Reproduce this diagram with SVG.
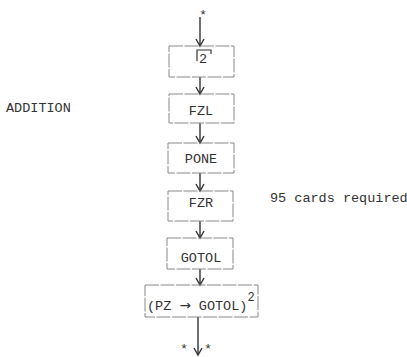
<svg xmlns="http://www.w3.org/2000/svg" width="407" height="357" viewBox="0 0 407 357">
<defs>
<marker id="ah" markerWidth="10" markerHeight="10" refX="8" refY="5" orient="auto" markerUnits="userSpaceOnUse" viewBox="0 0 10 10">
<path d="M1,1 L8,5 L1,9" fill="none" stroke="#333" stroke-width="1.4"/>
</marker>
<style>
.box{fill:none;stroke:#888;stroke-width:1;stroke-dasharray:14 1.5}
.t{font-family:"Liberation Mono","Courier New",monospace;font-size:13.5px;fill:#333}
.c{text-anchor:middle}
.e{stroke:#333;stroke-width:1.4;fill:none}
</style>
</defs>
<rect width="407" height="357" fill="#fff"/>
<g id="labels">
<text class="t" x="6" y="112">ADDITION</text>
<text class="t" x="270" y="202">95 cards required</text>
</g>
<g id="connectors">
<text class="t c" x="203" y="19">*</text>
<line class="e" x1="200" y1="17" x2="200" y2="46" marker-end="url(#ah)"/>
<line class="e" x1="200" y1="77" x2="200" y2="94" marker-end="url(#ah)"/>
<line class="e" x1="200" y1="123" x2="200" y2="143" marker-end="url(#ah)"/>
<line class="e" x1="200" y1="173" x2="200" y2="191" marker-end="url(#ah)"/>
<line class="e" x1="200" y1="221" x2="200" y2="238" marker-end="url(#ah)"/>
<line class="e" x1="200" y1="269" x2="200" y2="285" marker-end="url(#ah)"/>
<line class="e" x1="198" y1="317" x2="198" y2="355" marker-end="url(#ah)"/>
<text class="t c" x="184" y="353" font-size="12">*</text>
<text class="t c" x="208" y="353" font-size="12">*</text>
</g>
<g id="n1">
<rect class="box" x="169" y="46" width="65" height="31"/>
<polyline points="197,61 197,50 211,50 211,54" fill="none" stroke="#333" stroke-width="1.2"/>
<text class="t c" x="203" y="63">2</text>
</g>
<g id="n2">
<rect class="box" x="169" y="94" width="65" height="29"/>
<text class="t c" x="201" y="115">FZL</text>
</g>
<g id="n3">
<rect class="box" x="168" y="143" width="66" height="30"/>
<text class="t c" x="201" y="163">PONE</text>
</g>
<g id="n4">
<rect class="box" x="168" y="191" width="65" height="30"/>
<text class="t c" x="201" y="207">FZR</text>
</g>
<g id="n5">
<rect class="box" x="167" y="238" width="66" height="31"/>
<text class="t c" x="201" y="262">GOTOL</text>
</g>
<g id="n6">
<rect class="box" x="145" y="285" width="113" height="32"/>
<text class="t" x="147" y="310">(PZ <tspan font-family="DejaVu Sans, sans-serif">→</tspan> GOTOL)<tspan dy="-9" font-size="12">2</tspan></text>
</g>
</svg>
